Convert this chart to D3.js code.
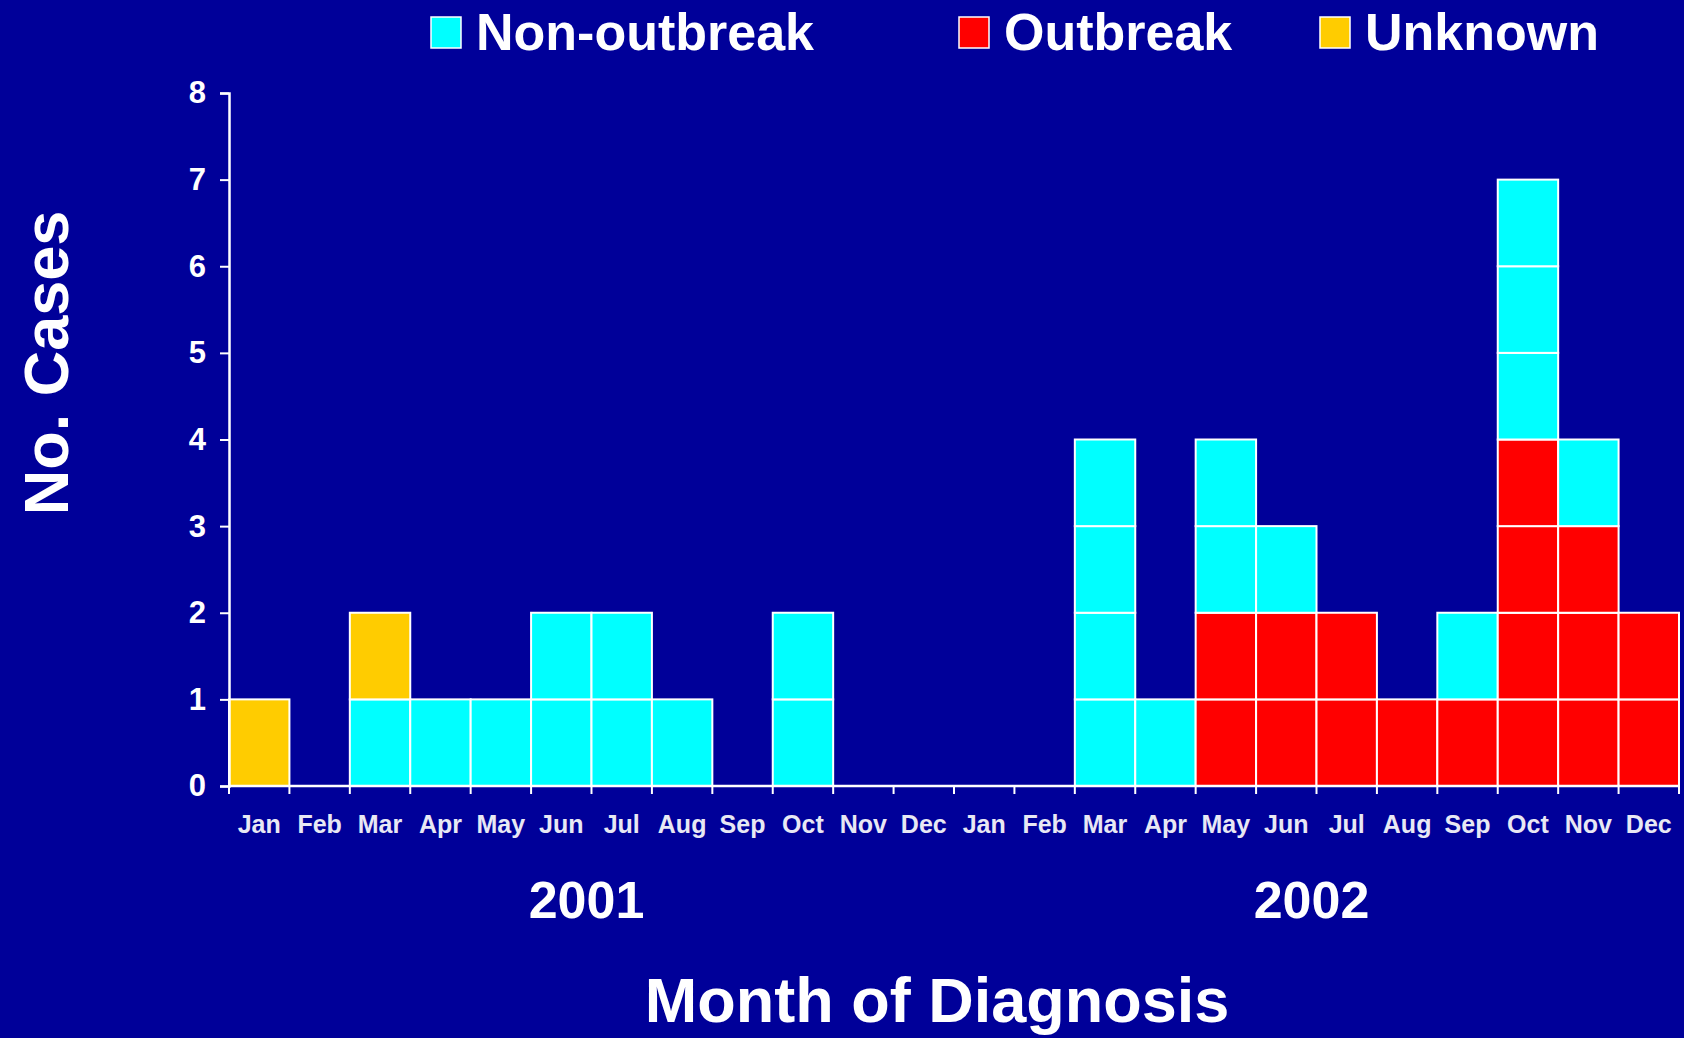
<!DOCTYPE html>
<html>
<head>
<meta charset="utf-8">
<script src="https://cdn.jsdelivr.net/npm/d3@7"></script>
<style>
  html, body { margin: 0; padding: 0; background: #000099; }
  svg { display: block; font-family: "Liberation Sans", Arial, sans-serif; font-weight: bold; }
</style>
</head>
<body>
<div id="chart"></div>
<script>
// months, 2001 then 2002
var months = ["Jan","Feb","Mar","Apr","May","Jun","Jul","Aug","Sep","Oct","Nov","Dec",
              "Jan","Feb","Mar","Apr","May","Jun","Jul","Aug","Sep","Oct","Nov","Dec"];
var years = ["2001", "2002"];

// cases per month (stack order: outbreak, non-outbreak, unknown)
var outbreak    = [0,0,0,0,0,0,0,0,0,0,0,0, 0,0,0,0,2,2,2,1,1,4,3,2];
var nonOutbreak = [0,0,1,1,1,2,2,1,0,2,0,0, 0,0,4,1,2,1,0,0,1,3,1,0];
var unknown     = [1,0,1,0,0,0,0,0,0,0,0,0, 0,0,0,0,0,0,0,0,0,0,0,0];

var seriesNames = ["Outbreak", "Non-outbreak", "Unknown"];
var legendOrder = ["Non-outbreak", "Outbreak", "Unknown"];
var colors = {"Non-outbreak": "#00ffff", "Outbreak": "#ff0000", "Unknown": "#ffcc00"};
var yTicks = [0,1,2,3,4,5,6,7,8];

var W = 1684, H = 1038;
var margin = {top: 93, right: 5, bottom: 252, left: 229};

var svg = d3.select("#chart").append("svg")
    .attr("width", W)
    .attr("height", H);

svg.append("rect").attr("width", W).attr("height", H).attr("fill", "#000099");

var x = d3.scaleBand()
    .domain(d3.range(months.length))
    .range([margin.left, W - margin.right])
    .padding(0);

var y = d3.scaleLinear()
    .domain([0, 8])
    .range([H - margin.bottom, margin.top]);

// one cell per case so each unit gets its own white outline
var table = months.map(function(m, i) {
    return {"Outbreak": outbreak[i], "Non-outbreak": nonOutbreak[i], "Unknown": unknown[i]};
});
var cells = [];
table.forEach(function(row, i) {
    var level = 0;
    seriesNames.forEach(function(s) {
        for (var k = 0; k < row[s]; k++) {
            cells.push({i: i, series: s, y0: level, y1: level + 1});
            level++;
        }
    });
});

svg.append("g").selectAll("rect")
    .data(cells)
    .enter()
    .append("rect")
    .attr("x", function(d) { return x(d.i); })
    .attr("y", function(d) { return y(d.y1); })
    .attr("width", x.bandwidth())
    .attr("height", function(d) { return y(d.y0) - y(d.y1); })
    .attr("fill", function(d) { return colors[d.series]; })
    .attr("stroke", "#ffffff")
    .attr("stroke-width", 2);

// y axis
var yAxis = svg.append("g")
    .attr("transform", "translate(" + margin.left + ",0)")
    .call(d3.axisLeft(y).tickValues(yTicks).tickFormat(d3.format("d")).tickSize(9).tickPadding(14));
yAxis.select(".domain").attr("stroke", "#ffffff").attr("stroke-width", 2.5);
yAxis.selectAll(".tick line").attr("stroke", "#ffffff").attr("stroke-width", 2);
yAxis.selectAll(".tick text")
    .attr("fill", "#ffffff")
    .style("font-size", "31px")
    .style("font-family", "'Liberation Sans', Arial, sans-serif")
    .style("font-weight", "bold");

// x axis: line plus ticks at month boundaries
var base = y(0);
svg.append("line")
    .attr("x1", margin.left).attr("x2", W - margin.right)
    .attr("y1", base).attr("y2", base)
    .attr("stroke", "#ffffff").attr("stroke-width", 2.5);

var bounds = d3.range(months.length + 1);
svg.append("g").selectAll("line")
    .data(bounds)
    .enter()
    .append("line")
    .attr("x1", function(d) { return margin.left + d * x.step(); })
    .attr("x2", function(d) { return margin.left + d * x.step(); })
    .attr("y1", base)
    .attr("y2", base + 8)
    .attr("stroke", "#ffffff")
    .attr("stroke-width", 2);

svg.append("g").selectAll("text")
    .data(months)
    .enter()
    .append("text")
    .attr("x", function(d, i) { return x(i) + x.bandwidth() / 2; })
    .attr("y", base + 47)
    .attr("text-anchor", "middle")
    .attr("fill", "#e8e8f4")
    .style("font-size", "25px")
    .text(function(d) { return d; });

// year labels
svg.append("g").selectAll("text")
    .data(years)
    .enter()
    .append("text")
    .attr("x", function(d, i) { return x(i * 12) + x.step() * 6 - 5; })
    .attr("y", 918)
    .attr("text-anchor", "middle")
    .attr("fill", "#ffffff")
    .style("font-size", "52px")
    .text(function(d) { return d; });

// axis titles
svg.append("text")
    .attr("x", 937)
    .attr("y", 1022)
    .attr("text-anchor", "middle")
    .attr("fill", "#ffffff")
    .style("font-size", "63px")
    .text("Month of Diagnosis");

svg.append("text")
    .attr("transform", "translate(68,363) rotate(-90)")
    .attr("text-anchor", "middle")
    .attr("fill", "#ffffff")
    .style("font-size", "63px")
    .text("No. Cases");

// legend
var legendX = [431, 959, 1320];
var legend = svg.append("g").selectAll("g")
    .data(legendOrder)
    .enter()
    .append("g")
    .attr("transform", function(d, i) { return "translate(" + legendX[i] + ",17)"; });

legend.append("rect")
    .attr("width", 30)
    .attr("height", 31)
    .attr("fill", function(d) { return colors[d]; })
    .attr("stroke", "#ffffff")
    .attr("stroke-width", 1.5);

legend.append("text")
    .attr("x", 45)
    .attr("y", 33)
    .attr("fill", "#ffffff")
    .style("font-size", "52px")
    .text(function(d) { return d; });
</script>
</body>
</html>
